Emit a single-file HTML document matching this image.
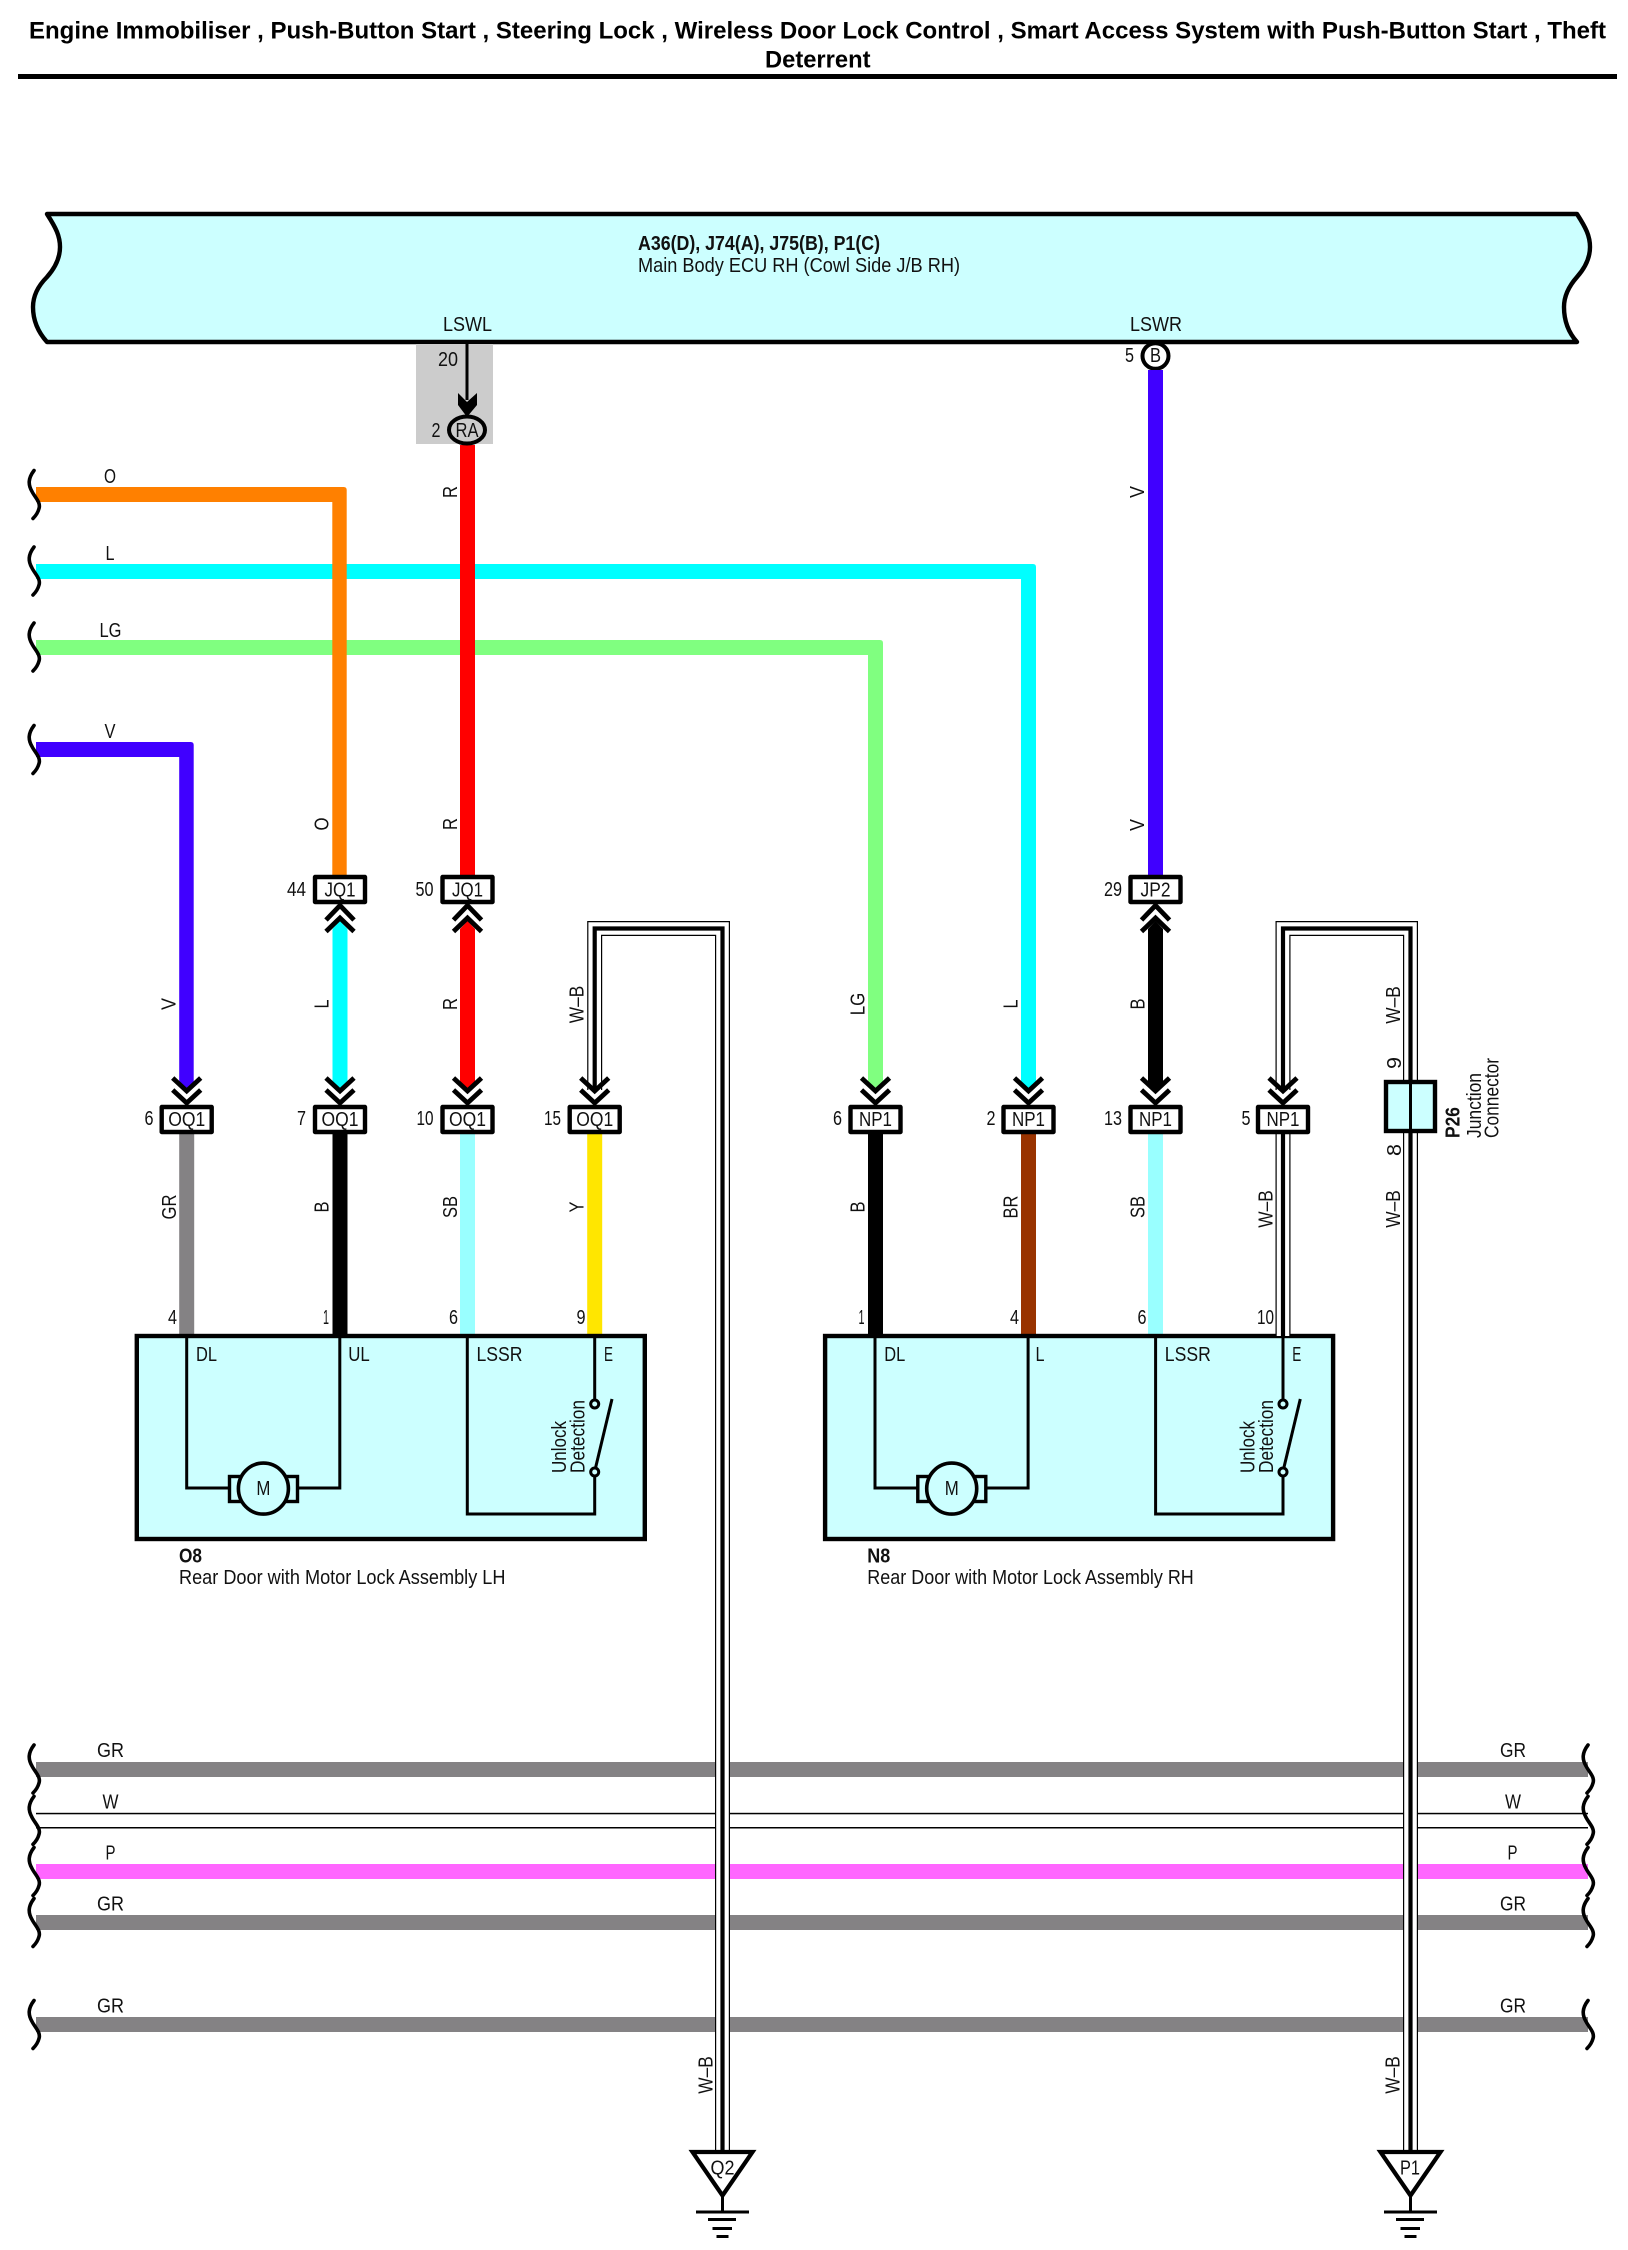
<!DOCTYPE html>
<html><head><meta charset="utf-8"><title>Wiring diagram</title>
<style>
html,body{margin:0;padding:0;background:#fff}
svg{display:block}
text{font-family:"Liberation Sans",Arial,sans-serif;font-size:20.5px;fill:#111;text-anchor:middle}
.s{text-anchor:start}
.b{font-weight:bold}
.t{font-weight:bold;font-size:24.5px;fill:#000}
</style></head><body>
<svg xmlns="http://www.w3.org/2000/svg" width="1628" height="2250" viewBox="0 0 1628 2250">
<defs>
<path id="mid" d="M-7.5 929L0 921L7.5 929V1082L0 1089L-7.5 1082Z"/>
<g id="up" fill="none" stroke="#000" stroke-width="4.8"><path d="M-14 920L0 905.5L14 920"/><path d="M-14 931.5L0 918L14 931.5"/></g>
<g id="dn" fill="none" stroke="#000" stroke-width="4.8"><path d="M-14 1078L0 1091L14 1078"/><path d="M-14 1090L0 1103L14 1090"/></g>
<path id="w" d="M-1-24C-7-16-7-10-3-3C0 3 6 8 4 14C3 18 1 21-2 24" fill="none" stroke="#000" stroke-width="3.6" stroke-linecap="round"/>
<rect id="c" x="-25" width="50" height="25" fill="#fff" stroke="#000" stroke-width="4.4" stroke-linejoin="round"/>
<g id="comp">
<rect x="136.8" y="1336" width="508" height="203" fill="#ccffff" stroke="#000" stroke-width="4.4"/>
<path d="M186.7 1336V1488H230M339.8 1336V1488H297M467.3 1336V1514H594.7V1476M594.7 1336V1400" fill="none" stroke="#000" stroke-width="3"/>
<rect x="229.5" y="1476.5" width="68" height="25" fill="none" stroke="#000" stroke-width="3.4"/>
<ellipse cx="263.4" cy="1488.6" rx="25" ry="25.5" fill="#ccffff" stroke="#000" stroke-width="3.6"/>
<circle cx="594.7" cy="1404" r="4" fill="#ccffff" stroke="#000" stroke-width="3"/>
<circle cx="594.7" cy="1472" r="4" fill="#ccffff" stroke="#000" stroke-width="3"/>
<path d="M595.5 1468L612 1399" stroke="#000" stroke-width="3"/>
</g>
<g id="gnd">
<path d="M692.5 2152H752.5L722.5 2195.5Z" fill="#fff" stroke="#000" stroke-width="4.2"/>
<path d="M722.5 2196V2212" stroke="#000" stroke-width="3"/>
<path d="M696 2212H749M708 2219.5H736M712.5 2228.5H732M716.5 2236.5H728.5" stroke="#000" stroke-width="3"/>
</g>
</defs>
<rect width="1628" height="2250" fill="#fff"/>

<!-- Title -->
<text class="t s" x="29" y="38.5" textLength="1577" lengthAdjust="spacingAndGlyphs">Engine Immobiliser , Push-Button Start , Steering Lock , Wireless Door Lock Control , Smart Access System with Push-Button Start , Theft</text>
<text class="t s" x="765" y="67.5" textLength="105.5" lengthAdjust="spacingAndGlyphs">Deterrent</text>
<rect x="18" y="74" width="1599" height="5" fill="#000"/>

<!-- ECU -->
<ellipse cx="1155.5" cy="356" rx="13" ry="12.8" fill="#fff" stroke="#000" stroke-width="4"/>
<path d="M47 214H1577C1586 228 1590 236 1590 247C1590 258 1585 268 1577 277C1569 286 1564 296 1564 307C1564 320 1568 332 1577 342H47C38 332 33 320 33 307C33 296 38 286 47 277C55 268 60 258 60 247C60 236 56 228 47 214Z" fill="#ccffff" stroke="#000" stroke-width="4.4" stroke-linejoin="round"/>
<text class="b s" x="638" y="250" textLength="242" lengthAdjust="spacingAndGlyphs">A36(D), J74(A), J75(B), P1(C)</text>
<text class="s" x="638" y="272" textLength="322" lengthAdjust="spacingAndGlyphs">Main Body ECU RH (Cowl Side J/B RH)</text>
<text x="467.5" y="331" textLength="49" lengthAdjust="spacingAndGlyphs">LSWL</text>
<text x="1156" y="331" textLength="52" lengthAdjust="spacingAndGlyphs">LSWR</text>

<!-- Grey splice -->
<rect x="416" y="344" width="77" height="100" fill="#cccccc"/>
<path d="M467 344V400" stroke="#000" stroke-width="3"/>
<path d="M458 393L467 402L477 393V405L467 417L458 405Z" fill="#000"/>
<text x="448" y="366" textLength="20" lengthAdjust="spacingAndGlyphs">20</text>
<text x="436" y="437" textLength="9" lengthAdjust="spacingAndGlyphs">2</text>

<!-- Horizontal wires -->
<path d="M36 564H1033Q1036 564 1036 567V1082L1028.5 1089L1021 1082V579H36Z" fill="#00ffff"/>
<path d="M36 640H880Q883 640 883 643V1082L875.5 1089L868 1082V655H36Z" fill="#80ff80"/>
<path d="M36 487H343.7Q346.7 487 346.7 490V875H332.3V502H36Z" fill="#ff8000"/>
<path d="M36 742H190.7Q193.7 742 193.7 745V1082L186.5 1089L179.2 1082V757H36Z" fill="#4000ff"/>

<!-- Red and violet verticals -->
<rect x="460" y="445" width="15" height="430" fill="#ff0000"/>
<rect x="1148" y="370" width="15" height="505" fill="#4000ff"/>
<use href="#mid" x="340" fill="#00ffff"/>
<use href="#mid" x="467.5" fill="#ff0000"/>
<use href="#mid" x="1155.5" fill="#000000"/>

<ellipse cx="467" cy="430" rx="18" ry="13.5" fill="#cccccc" stroke="#000" stroke-width="4"/>
<text x="467" y="437" textLength="23" lengthAdjust="spacingAndGlyphs">RA</text>
<text x="1155.5" y="362" textLength="11" lengthAdjust="spacingAndGlyphs">B</text>
<text x="1129.5" y="362" textLength="9" lengthAdjust="spacingAndGlyphs">5</text>

<!-- Lower wires -->
<rect x="179.2" y="1134" width="15" height="200" fill="#848284"/>
<rect x="332.5" y="1134" width="15" height="200" fill="#000"/>
<rect x="460" y="1134" width="15" height="200" fill="#99ffff"/>
<rect x="587.2" y="1134" width="15" height="200" fill="#ffe600"/>
<rect x="868" y="1134" width="15" height="200" fill="#000"/>
<rect x="1021" y="1134" width="15" height="200" fill="#993300"/>
<rect x="1148" y="1134" width="15" height="200" fill="#99ffff"/>

<!-- Components -->
<use href="#comp"/>
<use href="#comp" x="688.3"/>
<text x="206.5" y="1361" textLength="21" lengthAdjust="spacingAndGlyphs">DL</text>
<text x="359" y="1361" textLength="21.5" lengthAdjust="spacingAndGlyphs">UL</text>
<text x="499.5" y="1361" textLength="46" lengthAdjust="spacingAndGlyphs">LSSR</text>
<text x="608.5" y="1361" textLength="9" lengthAdjust="spacingAndGlyphs">E</text>
<text x="263.4" y="1495" textLength="14" lengthAdjust="spacingAndGlyphs">M</text>
<text x="894.8" y="1361" textLength="21" lengthAdjust="spacingAndGlyphs">DL</text>
<text x="1040" y="1361" textLength="9" lengthAdjust="spacingAndGlyphs">L</text>
<text x="1187.8" y="1361" textLength="46" lengthAdjust="spacingAndGlyphs">LSSR</text>
<text x="1296.8" y="1361" textLength="9" lengthAdjust="spacingAndGlyphs">E</text>
<text x="951.7" y="1495" textLength="14" lengthAdjust="spacingAndGlyphs">M</text>
<text class="s" transform="translate(566 1473) rotate(-90)" textLength="52" lengthAdjust="spacingAndGlyphs">Unlock</text>
<text class="s" transform="translate(584.6 1473) rotate(-90)" textLength="73" lengthAdjust="spacingAndGlyphs">Detection</text>
<text class="s" transform="translate(1254.3 1473) rotate(-90)" textLength="52" lengthAdjust="spacingAndGlyphs">Unlock</text>
<text class="s" transform="translate(1272.9 1473) rotate(-90)" textLength="73" lengthAdjust="spacingAndGlyphs">Detection</text>
<text class="b s" x="179" y="1562.5" textLength="23" lengthAdjust="spacingAndGlyphs">O8</text>
<text class="s" x="179" y="1584" textLength="326.5" lengthAdjust="spacingAndGlyphs">Rear Door with Motor Lock Assembly LH</text>
<text class="b s" x="867.3" y="1562.5" textLength="23" lengthAdjust="spacingAndGlyphs">N8</text>
<text class="s" x="867.3" y="1584" textLength="326.5" lengthAdjust="spacingAndGlyphs">Rear Door with Motor Lock Assembly RH</text>

<!-- Bus wires -->
<rect x="36" y="1762" width="1552" height="15" fill="#848284"/>
<rect x="36" y="1812.8" width="1552" height="1.5" fill="#000"/>
<rect x="36" y="1827" width="1552" height="1.5" fill="#000"/>
<rect x="36" y="1864" width="1552" height="15" fill="#ff66ff"/>
<rect x="36" y="1915" width="1552" height="15" fill="#848284"/>
<rect x="36" y="2017" width="1552" height="15" fill="#848284"/>

<!-- W-B wires -->
<g fill="none" stroke-linejoin="miter">
<path d="M594.7 1090V928.5H722.5V2152" stroke="#000" stroke-width="15"/>
<path d="M594.7 1090V928.5H722.5V2152" stroke="#fff" stroke-width="12.6"/>
<path d="M594.7 1090V928.5H722.5V2152" stroke="#000" stroke-width="4.2"/>
<path d="M1283 1090V928.5H1410.5V2152" stroke="#000" stroke-width="15"/>
<path d="M1283 1090V928.5H1410.5V2152" stroke="#fff" stroke-width="12.6"/>
<path d="M1283 1090V928.5H1410.5V2152" stroke="#000" stroke-width="4.2"/>
<path d="M1283 1134V1336" stroke="#000" stroke-width="15"/>
<path d="M1283 1134V1336" stroke="#fff" stroke-width="12.6"/>
<path d="M1283 1134V1336" stroke="#000" stroke-width="4.2"/>
</g>

<!-- Junction connector -->
<rect x="1386" y="1082" width="49" height="49" fill="#ccffff" stroke="#000" stroke-width="4.4"/>
<path d="M1410.5 1082V1131" stroke="#000" stroke-width="3"/>
<text class="b s" transform="translate(1459.6 1138) rotate(-90)" textLength="31" lengthAdjust="spacingAndGlyphs">P26</text>
<text class="s" transform="translate(1481 1138) rotate(-90)" textLength="65" lengthAdjust="spacingAndGlyphs">Junction</text>
<text class="s" transform="translate(1498.7 1138) rotate(-90)" textLength="80" lengthAdjust="spacingAndGlyphs">Connector</text>
<text transform="translate(1401 1063) rotate(-90)" textLength="12" lengthAdjust="spacingAndGlyphs">9</text>
<text transform="translate(1401 1150) rotate(-90)" textLength="12" lengthAdjust="spacingAndGlyphs">8</text>

<!-- Chevrons -->
<use href="#up" x="340"/><use href="#up" x="467.5"/><use href="#up" x="1155.5"/>
<use href="#dn" x="186.7"/><use href="#dn" x="340"/><use href="#dn" x="467.5"/><use href="#dn" x="594.7"/>
<use href="#dn" x="875.5"/><use href="#dn" x="1028.5"/><use href="#dn" x="1155.5"/><use href="#dn" x="1283"/>

<!-- Connectors -->
<use href="#c" x="340" y="877"/><use href="#c" x="467.5" y="877"/><use href="#c" x="1155.5" y="877"/>
<use href="#c" x="186.7" y="1107"/><use href="#c" x="340" y="1107"/><use href="#c" x="467.5" y="1107"/><use href="#c" x="594.7" y="1107"/>
<use href="#c" x="875.5" y="1107"/><use href="#c" x="1028.5" y="1107"/><use href="#c" x="1155.5" y="1107"/><use href="#c" x="1283" y="1107"/>
<text x="340" y="896.5" textLength="31" lengthAdjust="spacingAndGlyphs">JQ1</text>
<text x="467.5" y="896.5" textLength="31" lengthAdjust="spacingAndGlyphs">JQ1</text>
<text x="1155.5" y="896.5" textLength="30" lengthAdjust="spacingAndGlyphs">JP2</text>
<text x="186.7" y="1126" textLength="37" lengthAdjust="spacingAndGlyphs">OQ1</text>
<text x="340" y="1126" textLength="37" lengthAdjust="spacingAndGlyphs">OQ1</text>
<text x="467.5" y="1126" textLength="37" lengthAdjust="spacingAndGlyphs">OQ1</text>
<text x="594.7" y="1126" textLength="37" lengthAdjust="spacingAndGlyphs">OQ1</text>
<text x="875.5" y="1126" textLength="33" lengthAdjust="spacingAndGlyphs">NP1</text>
<text x="1028.5" y="1126" textLength="33" lengthAdjust="spacingAndGlyphs">NP1</text>
<text x="1155.5" y="1126" textLength="33" lengthAdjust="spacingAndGlyphs">NP1</text>
<text x="1283" y="1126" textLength="33" lengthAdjust="spacingAndGlyphs">NP1</text>

<!-- Pin numbers -->
<text x="296.5" y="896" textLength="19" lengthAdjust="spacingAndGlyphs">44</text>
<text x="424.5" y="896" textLength="18" lengthAdjust="spacingAndGlyphs">50</text>
<text x="1113" y="896" textLength="18" lengthAdjust="spacingAndGlyphs">29</text>
<text x="149" y="1125" textLength="9" lengthAdjust="spacingAndGlyphs">6</text>
<text x="301.5" y="1125" textLength="9" lengthAdjust="spacingAndGlyphs">7</text>
<text x="425" y="1125" textLength="17" lengthAdjust="spacingAndGlyphs">10</text>
<text x="552.5" y="1125" textLength="17" lengthAdjust="spacingAndGlyphs">15</text>
<text x="837.5" y="1125" textLength="9" lengthAdjust="spacingAndGlyphs">6</text>
<text x="991" y="1125" textLength="9" lengthAdjust="spacingAndGlyphs">2</text>
<text x="1113" y="1125" textLength="18" lengthAdjust="spacingAndGlyphs">13</text>
<text x="1246" y="1125" textLength="9" lengthAdjust="spacingAndGlyphs">5</text>
<text x="172.5" y="1324" textLength="9" lengthAdjust="spacingAndGlyphs">4</text>
<text x="326" y="1324" textLength="6" lengthAdjust="spacingAndGlyphs">1</text>
<text x="453.5" y="1324" textLength="9" lengthAdjust="spacingAndGlyphs">6</text>
<text x="581" y="1324" textLength="9" lengthAdjust="spacingAndGlyphs">9</text>
<text x="861.5" y="1324" textLength="6" lengthAdjust="spacingAndGlyphs">1</text>
<text x="1014.5" y="1324" textLength="9" lengthAdjust="spacingAndGlyphs">4</text>
<text x="1142" y="1324" textLength="9" lengthAdjust="spacingAndGlyphs">6</text>
<text x="1265.5" y="1324" textLength="17" lengthAdjust="spacingAndGlyphs">10</text>

<!-- Rotated wire labels -->
<text transform="translate(457 492) rotate(-90)" textLength="12" lengthAdjust="spacingAndGlyphs">R</text>
<text transform="translate(1144 492) rotate(-90)" textLength="12" lengthAdjust="spacingAndGlyphs">V</text>
<text transform="translate(328.4 824) rotate(-90)" textLength="13" lengthAdjust="spacingAndGlyphs">O</text>
<text transform="translate(457 824) rotate(-90)" textLength="12" lengthAdjust="spacingAndGlyphs">R</text>
<text transform="translate(1144 825) rotate(-90)" textLength="12" lengthAdjust="spacingAndGlyphs">V</text>
<text transform="translate(175.4 1004) rotate(-90)" textLength="12" lengthAdjust="spacingAndGlyphs">V</text>
<text transform="translate(328.4 1004) rotate(-90)" textLength="9" lengthAdjust="spacingAndGlyphs">L</text>
<text transform="translate(457 1004) rotate(-90)" textLength="12" lengthAdjust="spacingAndGlyphs">R</text>
<text transform="translate(583.4 1004.5) rotate(-90)" textLength="37.5" lengthAdjust="spacingAndGlyphs">W–B</text>
<text transform="translate(864.7 1004) rotate(-90)" textLength="22.5" lengthAdjust="spacingAndGlyphs">LG</text>
<text transform="translate(1017.3 1004) rotate(-90)" textLength="9" lengthAdjust="spacingAndGlyphs">L</text>
<text transform="translate(1144.4 1004) rotate(-90)" textLength="11" lengthAdjust="spacingAndGlyphs">B</text>
<text transform="translate(1399.8 1005) rotate(-90)" textLength="37.5" lengthAdjust="spacingAndGlyphs">W–B</text>
<text transform="translate(176 1207) rotate(-90)" textLength="25" lengthAdjust="spacingAndGlyphs">GR</text>
<text transform="translate(328.4 1207) rotate(-90)" textLength="11" lengthAdjust="spacingAndGlyphs">B</text>
<text transform="translate(457 1207) rotate(-90)" textLength="22" lengthAdjust="spacingAndGlyphs">SB</text>
<text transform="translate(583.4 1207) rotate(-90)" textLength="11" lengthAdjust="spacingAndGlyphs">Y</text>
<text transform="translate(864.7 1207) rotate(-90)" textLength="11" lengthAdjust="spacingAndGlyphs">B</text>
<text transform="translate(1017.3 1207) rotate(-90)" textLength="23" lengthAdjust="spacingAndGlyphs">BR</text>
<text transform="translate(1144.4 1207) rotate(-90)" textLength="22" lengthAdjust="spacingAndGlyphs">SB</text>
<text transform="translate(1272.3 1209) rotate(-90)" textLength="37.5" lengthAdjust="spacingAndGlyphs">W–B</text>
<text transform="translate(1399.8 1209) rotate(-90)" textLength="37.5" lengthAdjust="spacingAndGlyphs">W–B</text>
<text transform="translate(712.5 2075) rotate(-90)" textLength="37.5" lengthAdjust="spacingAndGlyphs">W–B</text>
<text transform="translate(1399.5 2075) rotate(-90)" textLength="37.5" lengthAdjust="spacingAndGlyphs">W–B</text>

<!-- Left wire labels -->
<text x="110" y="483" textLength="12" lengthAdjust="spacingAndGlyphs">O</text>
<text x="110" y="560" textLength="9" lengthAdjust="spacingAndGlyphs">L</text>
<text x="110.5" y="637" textLength="22" lengthAdjust="spacingAndGlyphs">LG</text>
<text x="110" y="738" textLength="11" lengthAdjust="spacingAndGlyphs">V</text>

<!-- Bus labels -->
<text x="110.5" y="1757.2" textLength="27" lengthAdjust="spacingAndGlyphs">GR</text>
<text x="110.5" y="1808.6" textLength="16" lengthAdjust="spacingAndGlyphs">W</text>
<text x="110.5" y="1859.3" textLength="10" lengthAdjust="spacingAndGlyphs">P</text>
<text x="110.5" y="1910.3" textLength="27" lengthAdjust="spacingAndGlyphs">GR</text>
<text x="110.5" y="2012.4" textLength="27" lengthAdjust="spacingAndGlyphs">GR</text>
<text x="1513" y="1757.2" textLength="26" lengthAdjust="spacingAndGlyphs">GR</text>
<text x="1513" y="1808.6" textLength="16" lengthAdjust="spacingAndGlyphs">W</text>
<text x="1512.5" y="1859.3" textLength="10" lengthAdjust="spacingAndGlyphs">P</text>
<text x="1513" y="1910.3" textLength="26" lengthAdjust="spacingAndGlyphs">GR</text>
<text x="1513" y="2012.4" textLength="26" lengthAdjust="spacingAndGlyphs">GR</text>

<!-- Break marks -->
<use href="#w" x="35" y="494.5"/><use href="#w" x="35" y="571"/><use href="#w" x="35" y="647"/><use href="#w" x="35" y="749.5"/>
<use href="#w" x="35" y="1769"/><use href="#w" x="35" y="1820.3"/><use href="#w" x="35" y="1871.5"/><use href="#w" x="35" y="1922.5"/><use href="#w" x="35" y="2024.5"/>
<use href="#w" x="1589" y="1769"/><use href="#w" x="1589" y="1820.3"/><use href="#w" x="1589" y="1871.5"/><use href="#w" x="1589" y="1922.5"/><use href="#w" x="1589" y="2024.5"/>

<!-- Grounds -->
<use href="#gnd"/>
<use href="#gnd" x="688"/>
<text x="722.5" y="2174.7" textLength="24" lengthAdjust="spacingAndGlyphs">Q2</text>
<text x="1410" y="2174.7" textLength="20" lengthAdjust="spacingAndGlyphs">P1</text>
</svg>
</body></html>
